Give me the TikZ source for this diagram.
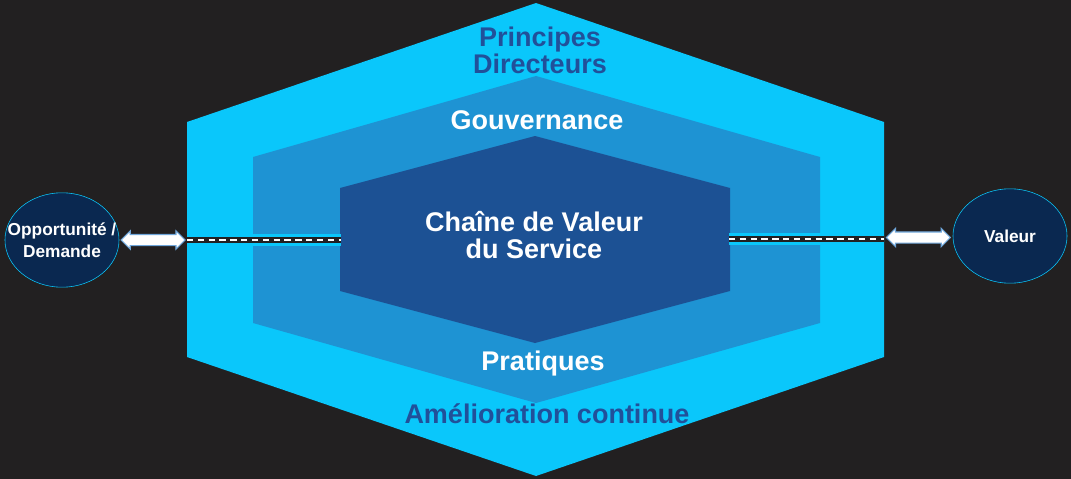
\documentclass[tikz,border=0pt]{standalone}
\usepackage{fontspec}
\setmainfont{Liberation Sans}
\usetikzlibrary{shapes.geometric,shapes.arrows,positioning}
\definecolor{night}{HTML}{222021}
\definecolor{sky}{HTML}{0AC7FB}
\definecolor{midblue}{HTML}{1E93D3}
\definecolor{deep}{HTML}{1C5194}
\definecolor{navy}{HTML}{0A2850}
\definecolor{ink}{HTML}{21509A}
\definecolor{rim}{HTML}{6FA6DA}
\tikzset{bigtxt/.style={font=\bfseries\fontsize{19.2}{19.2}\selectfont,align=center,inner sep=0pt,anchor=base}, inktxt/.style={bigtxt,text=ink}, whitetxt/.style={bigtxt,text=white},
party/.style={ellipse,draw=sky,fill=navy,inner sep=0pt,minimum width=2.85cm,minimum height=2.36cm},
partytxt/.style={text=white,font=\bfseries\fontsize{12.3}{16}\selectfont,align=center,inner sep=0pt},
dblarrow/.style={double arrow,draw=rim,fill=white,line width=0.8pt,inner xsep=0pt,inner ysep=0.125cm,minimum width=0.425cm,minimum height=1.6cm,double arrow head extend=0.09cm},
bar/.style={draw=night,line width=4.3pt,preaction={draw=sky,line width=8.5pt}}, dashline/.style={draw=white,line width=0.9pt,dash pattern=on 4.5pt off 3.2pt}}
\begin{document}
\begin{tikzpicture}[x=0.025cm,y=-0.025cm]
\fill[night] (0,0) rectangle (1071,479);
% hexagones
\fill[sky] (536,3)--(884,122)--(884,357)--(536,476)--(187,357)--(187,122)--cycle;
\fill[midblue] (536,76)--(820,157)--(820,323)--(536,403)--(253,323)--(253,157)--cycle;
\fill[deep] (535,136)--(730,188)--(730,291)--(535,343)--(340,291)--(340,188)--cycle;
\coordinate (hl) at (187,240);\coordinate (il) at (341,240);\coordinate (ir) at (729,239);\coordinate (hr) at (884,239);
\draw[bar] (hl)--(il);\draw[dashline] (hl)--(il);
\draw[bar] (ir)--(hr);\draw[dashline] (ir)--(hr);
% textes
\node[inktxt] (pd) at (540,73) {Principes\\Directeurs};
\node[whitetxt] (gov) at (537,130) {Gouvernance};
\node[whitetxt] (cvs) at (534,258) {Chaîne de Valeur\\du Service};
\node[whitetxt] (prat) at (543,370) {Pratiques};
\node[inktxt] (ac) at (547,423) {Amélioration continue};
% entree / sortie
\node[party,label={[partytxt]center:Opportunité /\\Demande}] (opp) at (62,240) {};
\node[party,label={[partytxt]center:Valeur}] (val) at (1010,236) {};
\path (opp.east)--(hl) node[midway,dblarrow]{};
\path (hr)--(val.west) node[midway,dblarrow]{};
\end{tikzpicture}
\end{document}
